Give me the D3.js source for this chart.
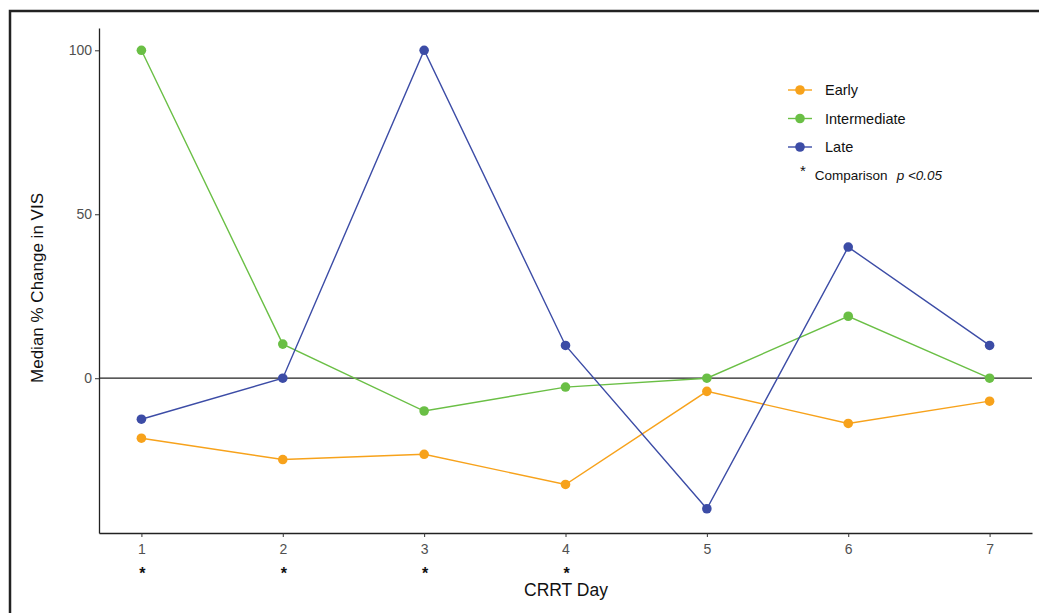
<!DOCTYPE html>
<html>
<head>
<meta charset="utf-8">
<script src="https://cdn.jsdelivr.net/npm/d3@7"></script>
<style>
  body { margin: 0; background: #fff; }
  svg { display: block; }
</style>
</head>
<body>
<svg id="chart" width="1039" height="613"></svg>
<script>
// data
const days = [1, 2, 3, 4, 5, 6, 7];
const early = [-18.3, -24.8, -23.2, -32.4, -4.0, -13.8, -7.0];
const intermediate = [100, 10.4, -10.0, -2.7, 0, 18.9, 0];
const late = [-12.5, 0, 100, 10.0, -39.8, 40.0, 10.0];
const yTicks = [0, 50, 100];
const sigDays = [1, 2, 3, 4];

const seriesNames = ["Early", "Intermediate", "Late"];
const seriesColors = ["#f7a21b", "#6abf45", "#3c4ca6"];
const seriesValues = [early, intermediate, late];

const chartW = 1039, chartH = 613;
const svg = d3.select("#chart");

// outer frame (cut off on right / bottom like the original)
svg.append("rect")
  .attr("x", 10).attr("y", 11)
  .attr("width", chartW + 20).attr("height", chartH + 20)
  .attr("fill", "none")
  .attr("stroke", "#222")
  .attr("stroke-width", 2.5);

const plotLeft = 99, plotRight = 1032, plotTop = 28, plotBottom = 533;

const x = d3.scaleLinear()
  .domain([0.7, 7.3])
  .range([plotLeft, plotRight]);

const y = d3.scaleLinear()
  .domain([-47.2, 106.8])
  .range([plotBottom, plotTop]);

const baseFont = "'Liberation Sans', Arial, sans-serif";

// y axis
const yAxis = svg.append("g")
  .attr("transform", `translate(${plotLeft},0)`)
  .call(d3.axisLeft(y).tickValues(yTicks).tickSizeInner(4).tickSizeOuter(0).tickPadding(3));
yAxis.select(".domain").attr("stroke", "#222").attr("stroke-width", 1.3);
yAxis.selectAll(".tick line").attr("stroke", "#333");
yAxis.selectAll("text")
  .attr("fill", "#505050")
  .style("font-family", baseFont)
  .style("font-size", "14px");

// x axis
const xAxis = svg.append("g")
  .attr("transform", `translate(0,${plotBottom})`)
  .call(d3.axisBottom(x).tickValues(days).tickFormat(d3.format("d"))
    .tickSizeInner(4).tickSizeOuter(0).tickPadding(7));
xAxis.select(".domain").attr("stroke", "#222").attr("stroke-width", 1.3);
xAxis.selectAll(".tick line").attr("stroke", "#333");
xAxis.selectAll("text")
  .attr("fill", "#505050")
  .style("font-family", baseFont)
  .style("font-size", "14px");

// zero reference line
svg.append("line")
  .attr("x1", plotLeft).attr("x2", plotRight)
  .attr("y1", y(0)).attr("y2", y(0))
  .attr("stroke", "#222")
  .attr("stroke-width", 1.2);

// series
const line = d3.line()
  .x((d, i) => x(days[i]))
  .y(d => y(d));

seriesValues.forEach((vals, s) => {
  svg.append("path")
    .datum(vals)
    .attr("fill", "none")
    .attr("stroke", seriesColors[s])
    .attr("stroke-width", 1.4)
    .attr("d", line);
  svg.selectAll(null)
    .data(vals)
    .join("circle")
    .attr("cx", (d, i) => x(days[i]))
    .attr("cy", d => y(d))
    .attr("r", 4.8)
    .attr("fill", seriesColors[s]);
});

// significance stars under days
svg.selectAll(".star")
  .data(sigDays)
  .join("text")
  .attr("class", "star")
  .attr("x", d => x(d) + 1)
  .attr("y", 579)
  .attr("text-anchor", "middle")
  .style("font-family", baseFont)
  .style("font-size", "16px")
  .style("font-weight", "bold")
  .attr("fill", "#111")
  .text("*");

// axis titles
svg.append("text")
  .attr("x", 566).attr("y", 596)
  .attr("text-anchor", "middle")
  .style("font-family", baseFont)
  .style("font-size", "17.5px")
  .attr("fill", "#111")
  .text("CRRT Day");

svg.append("text")
  .attr("transform", `translate(43,288) rotate(-90)`)
  .attr("text-anchor", "middle")
  .style("font-family", baseFont)
  .style("font-size", "17px")
  .attr("fill", "#111")
  .text("Median % Change in VIS");

// legend
const legendX = 800, legendY = 90, legendStep = 28.5;
const legend = svg.append("g");
seriesNames.forEach((name, i) => {
  const ly = legendY + i * legendStep;
  legend.append("line")
    .attr("x1", legendX - 12).attr("x2", legendX + 12)
    .attr("y1", ly).attr("y2", ly)
    .attr("stroke", seriesColors[i])
    .attr("stroke-width", 1.4);
  legend.append("circle")
    .attr("cx", legendX).attr("cy", ly).attr("r", 4.8)
    .attr("fill", seriesColors[i]);
  legend.append("text")
    .attr("x", legendX + 25).attr("y", ly + 5)
    .style("font-family", baseFont)
    .style("font-size", "14.5px")
    .attr("fill", "#111")
    .text(name);
});
const note = legend.append("text")
  .attr("x", legendX).attr("y", legendY + 3 * legendStep + 4)
  .style("font-family", baseFont)
  .style("font-size", "13.5px")
  .attr("fill", "#111");
note.append("tspan").attr("dy", -4).style("font-size", "15px").text("*");
note.append("tspan").attr("dx", 9).attr("dy", 4).text("Comparison");
note.append("tspan").attr("dx", 9).style("font-style", "italic").text("p <0.05");
</script>
</body>
</html>
